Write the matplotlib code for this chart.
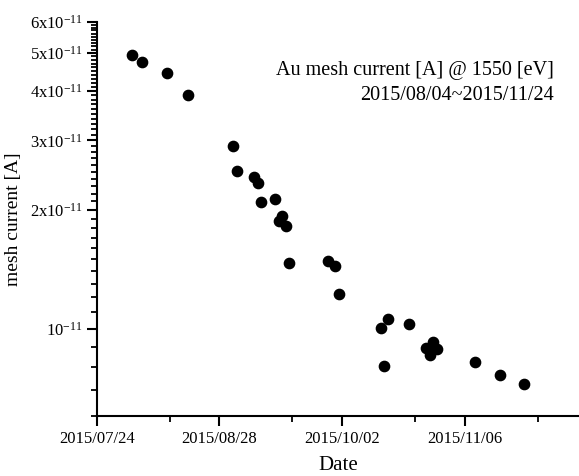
import matplotlib
matplotlib.use("Agg")
import matplotlib.pyplot as plt
import matplotlib.dates as mdates
from matplotlib.ticker import FixedLocator, FixedFormatter, NullFormatter
import numpy as np
import datetime as dt

plt.rcParams['font.family'] = ['Liberation Serif', 'DejaVu Serif']
plt.rcParams['mathtext.fontset'] = 'custom'
plt.rcParams['mathtext.rm'] = 'Liberation Serif'
plt.rcParams['mathtext.it'] = 'Liberation Serif:italic'
plt.rcParams['mathtext.bf'] = 'Liberation Serif:bold'

# ---- data ----
dates = ['2015-08-03', '2015-08-06', '2015-08-13', '2015-08-19',
         '2015-09-01', '2015-09-02', '2015-09-07', '2015-09-08',
         '2015-09-09', '2015-09-13', '2015-09-14', '2015-09-15',
         '2015-09-16', '2015-09-17', '2015-09-28', '2015-09-30',
         '2015-10-01', '2015-10-13', '2015-10-14', '2015-10-15',
         '2015-10-21', '2015-10-26', '2015-10-27', '2015-10-28',
         '2015-10-29', '2015-11-09', '2015-11-16', '2015-11-23']
current = [4.95e-11, 4.73e-11, 4.45e-11, 3.91e-11,
           2.91e-11, 2.51e-11, 2.42e-11, 2.34e-11,
           2.09e-11, 2.13e-11, 1.87e-11, 1.93e-11,
           1.82e-11, 1.47e-11, 1.48e-11, 1.44e-11,
           1.226e-11, 1.006e-11, 0.805e-11, 1.056e-11,
           1.025e-11, 0.894e-11, 0.856e-11, 0.923e-11,
           0.885e-11, 0.821e-11, 0.762e-11, 0.725e-11]

x_tick_dates = ['2015-07-24', '2015-08-28', '2015-10-02', '2015-11-06']
y_major = [1e-11, 2e-11, 3e-11, 4e-11, 5e-11, 6e-11]
y_major_labels = [r'$10^{-11}$', r'$2\mathrm{x}10^{-11}$', r'$3\mathrm{x}10^{-11}$',
                  r'$4\mathrm{x}10^{-11}$', r'$5\mathrm{x}10^{-11}$', r'$6\mathrm{x}10^{-11}$']

title_line1 = 'Au mesh current [A] @ 1550 [eV]'
title_line2 = '2015/08/04~2015/11/24'

# ---- figure ----
fig = plt.figure(figsize=(5.79, 4.76), dpi=100)
ax = fig.add_axes([96.7 / 579, 1 - 416 / 476, (579 - 96.7) / 579, (416 - 21.7) / 476])

xd = [dt.datetime.strptime(d, '%Y-%m-%d') for d in dates]
ax.plot(xd, current, 'o', color='black', markersize=7.4, linestyle='none')

ax.set_yscale('log')
ax.set_ylim(6e-12, 6e-11)
start = dt.datetime(2015, 7, 24)
ax.set_xlim(start, start + dt.timedelta(days=137.6))

# x ticks
xmaj = [mdates.date2num(dt.datetime.strptime(d, '%Y-%m-%d')) for d in x_tick_dates]
xmin = [v + 20.8 for v in xmaj]
ax.xaxis.set_major_locator(FixedLocator(xmaj))
ax.xaxis.set_major_formatter(FixedFormatter([d.replace('-', '/') for d in x_tick_dates]))
ax.xaxis.set_minor_locator(FixedLocator(xmin))

# y ticks
ax.yaxis.set_major_locator(FixedLocator(y_major))
ax.yaxis.set_major_formatter(FixedFormatter(y_major_labels))
ymin_ticks = [k * 1e-12 for k in range(6, 60) if k % 10 != 0]
ax.yaxis.set_minor_locator(FixedLocator(ymin_ticks))
ax.yaxis.set_minor_formatter(NullFormatter())

for s in ['top', 'right']:
    ax.spines[s].set_visible(False)
for s in ['left', 'bottom']:
    ax.spines[s].set_linewidth(1.5)

ax.tick_params(axis='both', which='major', direction='out', length=7, width=1.5,
               labelsize=12, colors='black')
ax.tick_params(axis='both', which='minor', direction='out', length=4, width=1.3)
ax.tick_params(axis='x', which='major', pad=4)
ax.tick_params(axis='y', which='major', pad=3)

ax.set_xlabel('Date', fontsize=15, labelpad=6.5)
ax.set_ylabel('mesh current [A]', fontsize=14, labelpad=6)

fig.text(554 / 579, 1 - 70 / 476, title_line1, ha='right', va='center', fontsize=14.5)
fig.text(554 / 579, 1 - 96 / 476, title_line2, ha='right', va='center', fontsize=14.5)

fig.savefig('out.png', dpi=100)
